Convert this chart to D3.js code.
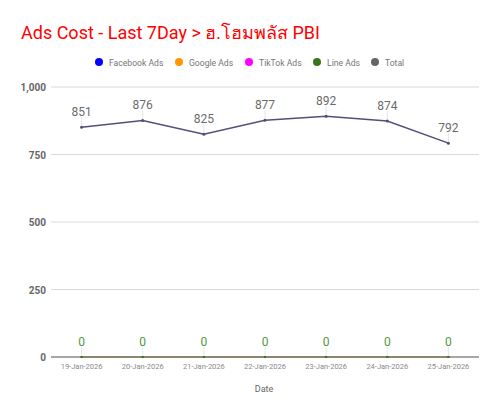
<!DOCTYPE html>
<html>
<head>
<meta charset="utf-8">
<script src="https://cdn.jsdelivr.net/npm/d3@7"></script>
<style>
  body { margin: 0; background: #fff; }
  text { font-family: Roboto, "Noto Sans", sans-serif; }
</style>
</head>
<body>
<svg id="chart" width="500" height="415"></svg>
<script>
// data
var dates = ["19-Jan-2026", "20-Jan-2026", "21-Jan-2026", "22-Jan-2026", "23-Jan-2026", "24-Jan-2026", "25-Jan-2026"];
var facebookAds = [0, 0, 0, 0, 0, 0, 0];
var googleAds = [0, 0, 0, 0, 0, 0, 0];
var tiktokAds = [0, 0, 0, 0, 0, 0, 0];
var lineAds = [0, 0, 0, 0, 0, 0, 0];
var total = [851, 876, 825, 877, 892, 874, 792];
var yTicks = [0, 250, 500, 750, 1000];

var series = [
  { name: "Facebook Ads", color: "#0000ff", values: facebookAds, labels: false },
  { name: "Google Ads", color: "#ff9900", values: googleAds, labels: false },
  { name: "TikTok Ads", color: "#ff00ff", values: tiktokAds, labels: false },
  { name: "Line Ads", color: "#38761d", values: lineAds, labels: true, labelColor: "#4f9a3a", lineColor: "#6aa84f" },
  { name: "Total", color: "#666666", values: total, labels: true, labelColor: "#6b6b6b", lineColor: "#534e7c" }
];

var svg = d3.select("#chart");
var plotLeft = 51, plotRight = 479, plotTop = 87, plotBottom = 357;

var x = d3.scaleBand().domain(dates).range([plotLeft, plotRight]);
var y = d3.scaleLinear().domain([0, 1000]).range([plotBottom, plotTop]);

// title
svg.append("text")
  .attr("x", 21).attr("y", 39)
  .attr("font-size", 18)
  .attr("fill", "#ff0000")
  .text("Ads Cost - Last 7Day > ฮ.โฮมพลัส PBI");

// legend
var legendX = [99, 179, 249, 317, 375];
series.forEach(function(s, i) {
  var g = svg.append("g").attr("transform", "translate(" + legendX[i] + ",62)");
  g.append("circle").attr("r", 4).attr("fill", s.color);
  g.append("text").attr("x", 10).attr("y", 3.5)
    .attr("font-size", 8.6).attr("fill", "#757575").text(s.name);
});

// grid
svg.append("g").selectAll("line").data(yTicks.filter(function(d) { return d > 0; }))
  .join("line")
  .attr("x1", plotLeft).attr("x2", plotRight)
  .attr("y1", function(d) { return y(d); }).attr("y2", function(d) { return y(d); })
  .attr("stroke", "#d9d9d9").attr("stroke-width", 1);

// y axis labels
svg.append("g").selectAll("text").data(yTicks)
  .join("text")
  .attr("x", 46).attr("y", function(d) { return y(d) + 4; })
  .attr("text-anchor", "end")
  .attr("font-size", 10).attr("font-weight", "bold")
  .attr("fill", "#666")
  .text(function(d) { return d3.format(",")(d); });

// baseline
svg.append("line")
  .attr("x1", plotLeft).attr("x2", plotRight)
  .attr("y1", y(0)).attr("y2", y(0))
  .attr("stroke", "#888").attr("stroke-width", 1.5);

// x tick labels
svg.append("g").selectAll("text").data(dates)
  .join("text")
  .attr("x", function(d) { return x(d) + x.bandwidth() / 2; })
  .attr("y", 369)
  .attr("text-anchor", "middle")
  .attr("font-size", 7.5).attr("fill", "#8a8a8a")
  .text(function(d) { return d; });

svg.append("text")
  .attr("x", 264).attr("y", 392)
  .attr("text-anchor", "middle")
  .attr("font-size", 9).attr("fill", "#666")
  .text("Date");

var cx = function(d, i) { return x(dates[i]) + x.bandwidth() / 2; };

// data label leader lines
series.forEach(function(s) {
  if (!s.labels) return;
  svg.append("g").selectAll("line").data(s.values)
    .join("line")
    .attr("x1", cx).attr("x2", cx)
    .attr("y1", function(d) { return y(d) - 10; })
    .attr("y2", function(d) { return y(d); })
    .attr("stroke", "#e6e6e6").attr("stroke-width", 1);
});

// lines
var line = d3.line().x(cx).y(function(d) { return y(d); });
series.forEach(function(s) {
  svg.append("path")
    .datum(s.values)
    .attr("d", line)
    .attr("fill", "none")
    .attr("stroke", s.lineColor || s.color)
    .attr("stroke-width", 1.5);
});
series.forEach(function(s) {
  svg.append("g").selectAll("circle").data(s.values)
    .join("circle")
    .attr("cx", cx).attr("cy", function(d) { return y(d); })
    .attr("r", s.name === "Total" ? 1.5 : 1)
    .attr("fill", s.name === "Total" ? s.lineColor : "#38761d");
});

// data labels
series.forEach(function(s) {
  if (!s.labels) return;
  svg.append("g").selectAll("text").data(s.values)
    .join("text")
    .attr("x", cx)
    .attr("y", function(d) { return y(d) - 11; })
    .attr("text-anchor", "middle")
    .attr("font-size", 12)
    .attr("fill", s.labelColor)
    .text(function(d) { return d3.format(",")(d); });
});
</script>
</body>
</html>
